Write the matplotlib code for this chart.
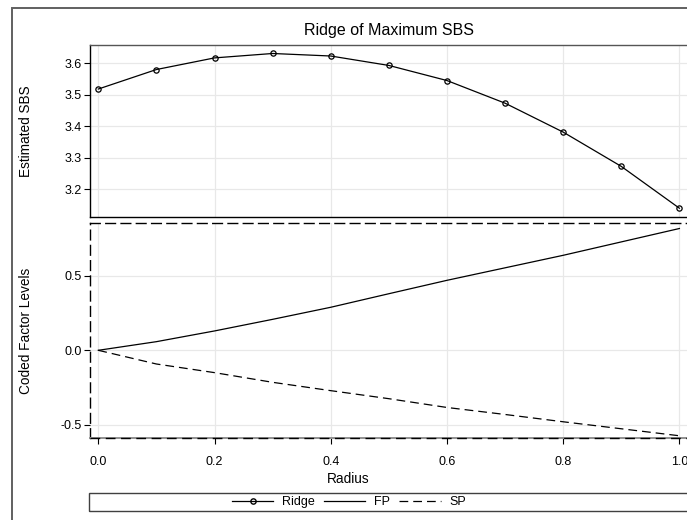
import numpy as np
import matplotlib
matplotlib.use("Agg")
import matplotlib.pyplot as plt
from matplotlib.lines import Line2D
from matplotlib.patches import Rectangle

plt.rcParams['font.family'] = ['Liberation Sans', 'DejaVu Sans']

# values
radius = [0.0, 0.1, 0.2, 0.3, 0.4, 0.5, 0.6, 0.7, 0.8, 0.9, 1.0]
ridge = [3.518, 3.580, 3.617, 3.631, 3.623, 3.593, 3.545, 3.473, 3.381, 3.272, 3.139]
fp = [0.0, 0.058, 0.130, 0.208, 0.289, 0.380, 0.470, 0.554, 0.638, 0.728, 0.818]
sp = [0.0, -0.092, -0.150, -0.215, -0.271, -0.325, -0.384, -0.431, -0.480, -0.527, -0.574]

x_ticks = [0.0, 0.2, 0.4, 0.6, 0.8, 1.0]
upper_ticks = [3.2, 3.3, 3.4, 3.5, 3.6]
lower_ticks = [-0.5, 0.0, 0.5]

W, H = 687, 520
fig = plt.figure(figsize=(W / 100, H / 100), dpi=100)

def fx(px):
    return px / W

def fy(py):
    return 1 - py / H

grid_col = '#e8e8e8'
tick_fs = 9
label_fs = 9.8
dash = (7, 4)

# outer frame
fig.patches.append(Rectangle((fx(12), -0.01), 1.2, fy(8) + 0.01, transform=fig.transFigure,
                             fill=False, edgecolor='#606060', lw=1.4))

ax1 = fig.add_axes([fx(90), fy(216.7), 1 - fx(90) + 0.001, fy(45) - fy(216.7)])
ax2 = fig.add_axes([fx(90), fy(437.7), 1 - fx(90) + 0.001, fy(223.3) - fy(437.7)])

xlim = (-0.0143, 1.0143)

for ax in (ax1, ax2):
    ax.tick_params(axis='y', direction='out', length=4, width=0.8, labelsize=tick_fs, pad=2)
    ax.tick_params(axis='x', direction='out', length=4, width=0.8, labelsize=tick_fs, pad=9)

ax1.plot(radius, ridge, color='black', lw=0.9, marker='o', markersize=3.8,
         markerfacecolor='none', markeredgewidth=0.9, zorder=3)
ax1.set_xlim(xlim)
ax1.set_ylim(3.112, 3.658)
ax1.set_yticks(upper_ticks)
ax1.set_yticklabels(['%.1f' % v for v in upper_ticks])
ax1.set_xticks(x_ticks)
ax1.tick_params(axis='x', length=0, labelbottom=False)
ax1.grid(True, color=grid_col, lw=0.9)
ax1.set_axisbelow(True)
ax1.set_ylabel('Estimated SBS', fontsize=label_fs)
ax1.yaxis.set_label_coords(-57 / 597, 0.5)
for s in ax1.spines.values():
    s.set_color('black')
    s.set_linewidth(1.0)
ax1.spines['top'].set_color('#555555')

ax2.plot(radius, fp, color='black', lw=0.9, zorder=3)
ax2.plot(radius, sp, color='black', lw=0.9, dashes=dash, zorder=3)
ax2.set_xlim(xlim)
ax2.set_ylim(-0.587, 0.853)
ax2.set_yticks(lower_ticks)
ax2.set_yticklabels(['%.1f' % v for v in lower_ticks])
ax2.set_xticks(x_ticks)
ax2.set_xticklabels(['%.1f' % v for v in x_ticks])
ax2.grid(True, color=grid_col, lw=0.9)
ax2.set_axisbelow(True)
ax2.set_ylabel('Coded Factor Levels', fontsize=label_fs)
ax2.yaxis.set_label_coords(-57 / 597, 0.5)
ax2.spines['right'].set_visible(False)
for name in ['left', 'top']:
    ax2.spines[name].set_linestyle((0, dash))
    ax2.spines[name].set_linewidth(1.0)
ax2.spines['bottom'].set_color('#909090')
ax2.spines['bottom'].set_linewidth(1.4)
ax2.axhline(-0.587, color='black', lw=1.0, dashes=dash, clip_on=False, zorder=4)

fig.text(fx(388.5), fy(31), 'Ridge of Maximum SBS', ha='center', va='center', fontsize=11.5)
fig.text(fx(348), fy(479), 'Radius', ha='center', va='center', fontsize=label_fs)

# legend box spanning the width
fig.patches.append(Rectangle((fx(89), fy(511)), 1.2, fy(492.7) - fy(511), transform=fig.transFigure,
                             fill=False, edgecolor='#404040', lw=1.0))
handles = [
    Line2D([], [], color='black', lw=0.9, marker='o', markersize=3.8, markerfacecolor='none'),
    Line2D([], [], color='black', lw=0.9),
    Line2D([], [], color='black', lw=0.9, dashes=dash),
]
fig.legend(handles, ['Ridge', 'FP', 'SP'], loc='center', bbox_to_anchor=(fx(349), fy(502)),
           ncol=3, frameon=False, fontsize=9, handlelength=3.3, handletextpad=0.7,
           columnspacing=0.75, borderpad=0)

fig.savefig('out.png', dpi=100)
